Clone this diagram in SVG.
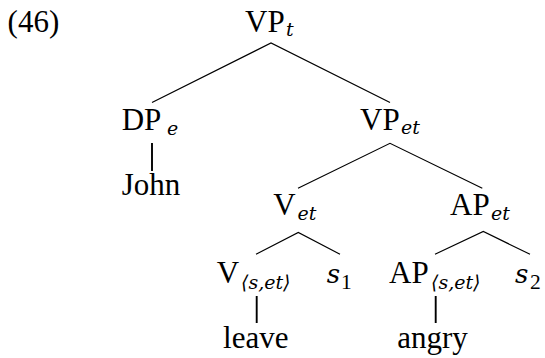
<svg xmlns="http://www.w3.org/2000/svg" width="545" height="358" viewBox="0 0 545 358">
<style>
text{font-family:"Liberation Serif","DejaVu Serif",serif;fill:#000}
.m{font-size:31px}
.s{font-size:19px;font-style:italic;font-family:"DejaVu Serif",serif}
.n{font-size:21.5px;font-style:normal}
.i{font-style:italic;font-size:26px;font-family:"DejaVu Serif",serif}
.e{stroke:#000;stroke-width:1.2;fill:none}
.v{stroke:#000;stroke-width:1.9;fill:none}
</style>
<rect width="545" height="358" fill="#fff"/>
<text id="ex" class="m" x="7.6" y="32">(46)</text>
<g id="connectors">
<path class="e" d="M152,102.5 L271,43 L390,102.5"/>
<path class="e" d="M298,188.3 L390,143.3 L482.3,188.3"/>
<path class="e" d="M256,254.3 L298.3,232.5 L340,254.3"/>
<path class="e" d="M435,254.3 L483.3,231.5 L530,254.3"/>
<line class="v" x1="152" y1="143" x2="152" y2="171"/>
<line class="v" x1="256.7" y1="296" x2="256.7" y2="323"/>
<line class="v" x1="435.7" y1="296" x2="435.7" y2="323"/>
</g>
<g id="VPt"><text class="m" x="245" y="31.5">VP<tspan class="s" x="286" y="36">t</tspan></text></g>
<g id="DPe"><text class="m" x="121.7" y="130">DP<tspan class="s" x="167" y="134.5">e</tspan></text></g>
<g id="VPet"><text class="m" x="360" y="129.5">VP<tspan class="s" x="401" y="134">et</tspan></text></g>
<g id="John"><text class="m" x="151" y="195" text-anchor="middle">John</text></g>
<g id="Vet"><text class="m" x="273.3" y="215">V<tspan class="s" x="297.5" y="219.5">et</tspan></text></g>
<g id="APet"><text class="m" x="450" y="215">AP<tspan class="s" x="491" y="219.5">et</tspan></text></g>
<g id="Vset"><text class="m" x="216.7" y="283.3">V<tspan class="s" x="241" y="288.5">⟨s,et⟩</tspan></text></g>
<g id="s1"><text class="m" x="326.7" y="283.3"><tspan class="i">s</tspan><tspan class="n" x="341" y="288.5">1</tspan></text></g>
<g id="APset"><text class="m" x="389" y="283.3">AP<tspan class="s" x="431" y="288.5">⟨s,et⟩</tspan></text></g>
<g id="s2"><text class="m" x="515" y="283.3"><tspan class="i">s</tspan><tspan class="n" x="530" y="288.5">2</tspan></text></g>
<g id="leave"><text class="m" x="255.8" y="348" text-anchor="middle">leave</text></g>
<g id="angry"><text class="m" x="432.5" y="348" text-anchor="middle">angry</text></g>
</svg>
